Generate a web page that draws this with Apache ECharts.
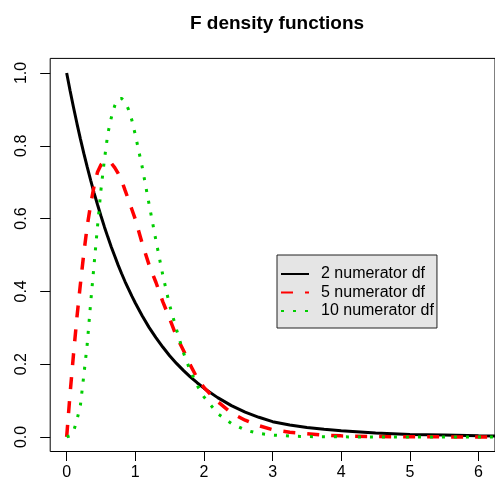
<!DOCTYPE html>
<html>
<head>
<meta charset="utf-8">
<script src="https://cdn.jsdelivr.net/npm/echarts@6/dist/echarts.min.js"></script>
<style>
  html, body { margin: 0; padding: 0; background: #fff; }
  #container { width: 495px; height: 491px; }
</style>
</head>
<body>
<div id="container"></div>
<script>
var xVals = [0, 0.05, 0.1, 0.15, 0.2, 0.25, 0.3, 0.35, 0.4, 0.45, 0.5, 0.55, 0.6, 0.65, 0.7, 0.75, 0.8, 0.85, 0.9, 0.95,
             1.0, 1.1, 1.2, 1.3, 1.4, 1.5, 1.6, 1.7, 1.8, 1.9, 2.0, 2.2, 2.4, 2.6, 2.8, 3.0, 3.25, 3.5, 3.75, 4.0,
             4.5, 5.0, 5.5, 6.0, 6.25];
// 2 numerator df
var df2Vals = [1.0, 0.951, 0.905, 0.861, 0.819, 0.779, 0.741, 0.705, 0.67, 0.638, 0.607, 0.577, 0.549, 0.522, 0.497, 0.472, 0.449, 0.427, 0.407, 0.387,
               0.368, 0.333, 0.301, 0.273, 0.247, 0.223, 0.202, 0.183, 0.165, 0.149, 0.134, 0.108, 0.086, 0.068, 0.054, 0.042, 0.033, 0.026, 0.021, 0.017,
               0.011, 0.007, 0.005, 0.003, 0.0025];
// 5 numerator df
var df5Vals = [0, 0.12, 0.228, 0.33, 0.42, 0.505, 0.58, 0.64, 0.69, 0.728, 0.748, 0.757, 0.758, 0.752, 0.74, 0.724, 0.705, 0.678, 0.652, 0.625,
               0.598, 0.532, 0.473, 0.425, 0.372, 0.325, 0.276, 0.238, 0.198, 0.162, 0.136, 0.097, 0.066, 0.046, 0.031, 0.02, 0.013, 0.009, 0.005, 0.003,
               0.001, 0.0005, 0.0002, 0.0001, 0.0001];
// 10 numerator df
var df10Vals = [0, 0.003, 0.015, 0.047, 0.087, 0.17, 0.256, 0.37, 0.475, 0.58, 0.68, 0.762, 0.834, 0.877, 0.91, 0.929, 0.93, 0.921, 0.9, 0.87,
                0.83, 0.742, 0.64, 0.54, 0.445, 0.362, 0.295, 0.232, 0.182, 0.142, 0.11, 0.064, 0.037, 0.019, 0.0095, 0.005, 0.0025, 0.001, 0.0005, 0.0002,
                0.0001, 0, 0, 0, 0];
var xTicks = [0, 1, 2, 3, 4, 5, 6];
var yTicks = [0, 0.2, 0.4, 0.6, 0.8, 1.0];
var seriesNames = ['2 numerator df', '5 numerator df', '10 numerator df'];

function pairs(ys) {
    return xVals.map(function (x, i) { return [x, ys[i]]; });
}

var myChart = echarts.init(document.getElementById('container'));
var font = 'Liberation Sans, Arial, Helvetica, sans-serif';

var option = {
    animation: false,
    title: {
        text: 'F density functions',
        left: 272,
        top: 9,
        textAlign: 'center',
        textStyle: { fontFamily: font, fontSize: 19, fontWeight: 'bold', color: '#000' }
    },
    legend: {
        orient: 'vertical',
        left: 277,
        top: 255,
        padding: [11, 3, 9, 3],
        itemWidth: 28,
        itemHeight: 14,
        itemGap: 2.5,
        backgroundColor: '#e5e5e5',
        borderColor: '#222',
        borderWidth: 1,
        borderRadius: 0,
        data: seriesNames,
        itemStyle: { opacity: 0 },
        textStyle: { fontFamily: font, fontSize: 16, color: '#000', lineHeight: 16, padding: [0, 0, 0, 7] }
    },
    grid: {
        left: 50.2,
        top: 58.4,
        width: 453.6,
        height: 393.1,
        show: true,
        borderColor: '#000',
        borderWidth: 1,
        backgroundColor: 'transparent'
    },
    xAxis: {
        type: 'value',
        min: -0.24,
        max: 6.24,
        axisLine: { show: false, onZero: false },
        splitLine: { show: false },
        axisTick: { show: true, inside: false, length: 9.5, customValues: xTicks, lineStyle: { color: '#000', width: 1 } },
        axisLabel: { customValues: xTicks, margin: 13, fontFamily: font, fontSize: 16, color: '#000' }
    },
    yAxis: {
        type: 'value',
        min: -0.04,
        max: 1.04,
        axisLine: { show: false, onZero: false },
        splitLine: { show: false },
        axisTick: { show: true, inside: false, length: 10, customValues: yTicks, lineStyle: { color: '#000', width: 1 } },
        axisLabel: {
            customValues: yTicks, rotate: 90, margin: 21, fontFamily: font, fontSize: 16, color: '#000',
            formatter: function (v) { return v.toFixed(1); }
        }
    },
    series: [
        {
            name: seriesNames[0],
            type: 'line',
            symbol: 'none',
            showSymbol: false,
            smooth: false,
            color: '#000000',
            lineStyle: { width: 3, color: '#000000', type: 'solid' },
            data: pairs(df2Vals)
        },
        {
            name: seriesNames[1],
            type: 'line',
            symbol: 'none',
            showSymbol: false,
            smooth: false,
            color: '#ff0000',
            lineStyle: { width: 3.5, color: '#ff0000', type: [12, 12] },
            data: pairs(df5Vals)
        },
        {
            name: seriesNames[2],
            type: 'line',
            symbol: 'none',
            showSymbol: false,
            smooth: false,
            color: '#00cd00',
            lineStyle: { width: 3, color: '#00cd00', type: [3, 9] },
            data: pairs(df10Vals)
        }
    ]
};
myChart.setOption(option);
</script>
</body>
</html>
